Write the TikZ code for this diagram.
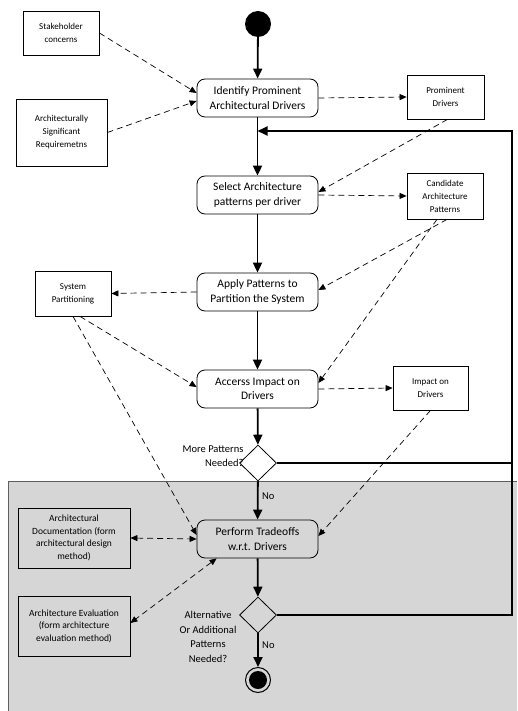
\documentclass[tikz,border=0pt]{standalone}
\usepackage{fontspec}
\setmainfont{Carlito}
\usepackage{tikz}
\usetikzlibrary{positioning, arrows.meta, shapes.geometric}
\definecolor{regiongray}{RGB}{214,214,214}
\definecolor{regionline}{RGB}{95,95,95}

\begin{document}
\begin{tikzpicture}[x=1pt, y=-1pt, >={Triangle[length=7pt, width=6pt]},
    activity/.style={draw, line width=.8pt, rounded corners=8pt, minimum width=121pt,
                     minimum height=38pt, align=center, inner sep=2pt,
                     font=\fontsize{11.5}{14.5}\selectfont},
    artifact/.style={draw, line width=.8pt, minimum width=76pt, minimum height=44pt,
                     align=center, inner sep=2pt, font=\fontsize{9}{13}\selectfont},
    decision/.style={draw, line width=.8pt, diamond, minimum width=37pt, minimum height=36pt,
                     inner sep=0pt},
    flow/.style={line width=1.8pt, -{Triangle[length=10pt, width=9pt]}},
    dep/.style={line width=.7pt, dash pattern=on 6pt off 4pt},
    lbl/.style={font=\fontsize{10.5}{14.5}\selectfont, align=center}]
  \useasboundingbox (0,0) rectangle (517,711);

  % shaded lower part
  \fill[regiongray] (8,481) rectangle (517,711);
  \draw[regionline, line width=.8pt] (8,711) -- (8,481) -- (517,481);

  % main column
  \node[circle, fill, minimum size=26pt, inner sep=0pt] (start) at (258,24) {};
  \node[activity] (identify) at (257.5,98) {Identify Prominent\\Architectural Drivers};
  \node[activity] (select) at (257.5,195) {Select Architecture\\patterns per driver};
  \node[activity] (apply) at (257.5,292) {Apply Patterns to\\Partition the System};
  \node[activity] (assess) at (257.5,389) {Accerss Impact on\\Drivers};
  \node[decision] (more) at (258,463) {};
  \node[activity] (perform) at (257.5,539) {Perform Tradeoffs\\w.r.t. Drivers};
  \node[decision] (alt) at (258,615) {};
  \node[circle, draw, line width=1pt, minimum size=25pt, inner sep=0pt] (finish) at (258,680) {};
  \node[circle, fill, minimum size=18pt, inner sep=0pt] (finishdot) at (finish) {};

  \node[lbl, anchor=east, align=right] (morelbl) at (247,456) {More Patterns\\Needed?};
  \node[lbl] (altlbl) at (208,637) {Alternative\\Or Additional\\Patterns\\Needed?};

  % work products
  \node[artifact] (stake) at (61,33) {Stakeholder\\concerns};
  \node[artifact, minimum width=91pt, minimum height=67pt] (asr) at (61.5,132.5)
       {Architecturally\\Significant\\Requiremetns};
  \node[artifact, minimum width=77pt] (prom) at (445.5,97) {Prominent\\Drivers};
  \node[artifact, minimum height=46pt] (cand) at (445,196) {Candidate\\Architecture\\Patterns};
  \node[artifact, minimum height=45pt] (syspart) at (73,293.5) {System\\Partitioning};
  \node[artifact, minimum width=75pt] (impact) at (430.5,388) {Impact on\\Drivers};
  \node[artifact, minimum width=112pt, minimum height=60pt, font=\fontsize{9.5}{12.5}\selectfont]
       (doc) at (74,538) {Architectural\\Documentation (form\\architectural design\\method)};
  \node[artifact, minimum width=112pt, minimum height=60pt, font=\fontsize{9.5}{12.5}\selectfont]
       (eval) at (74,626) {Architecture Evaluation\\(form architecture\\evaluation method)};

  % control flow
  \coordinate (loop) at (512,131);
  \draw[flow] (start) -- (identify);
  \draw[flow] (identify) -- (select);
  \draw[flow] (select) -- (apply);
  \draw[flow] (apply) -- (assess);
  \draw[flow] (assess) -- (more);
  \draw[flow] (more) -- node[lbl, right, pos=.38] {No} (perform);
  \draw[flow] (perform) -- (alt);
  \draw[flow] (alt) -- node[lbl, right, pos=.35] {No} (finish);
  \draw[flow] (more.east) -- (more.east -| loop) -- (loop) -- (loop -| identify);
  \draw[line width=1.8pt] (alt.east) -| (loop);

  % object flow
  \draw[dep, ->] (stake.east) -- ([yshift=5pt]identify.west);
  \draw[dep, ->] (asr.east) -- ([yshift=-3pt]identify.west);
  \draw[dep, ->] (identify.east) -- (prom.west);
  \draw[dep, ->] ([xshift=2pt]prom.south) -- ([yshift=3pt]select.east);
  \draw[dep, ->] (select.east) -- (cand.west);
  \draw[dep, ->] ([xshift=2pt]cand.south) -- ([yshift=2pt]apply.east);
  \draw[dep, ->] ([xshift=-8pt]cand.south) -- ([yshift=6pt]assess.east);
  \draw[dep, ->] (apply.west) -- (syspart.east);
  \draw[dep, ->] ([xshift=7pt]syspart.south) -- ([yshift=2pt]assess.west);
  \draw[dep, ->] (syspart.south) -- ([yshift=4pt]perform.west);
  \draw[dep, ->] (assess.east) -- (impact.west);
  \draw[dep, ->] (impact.south) -- ([yshift=3pt]perform.east);
  \draw[dep, <->] (doc.east) -- (perform.west);
  \draw[dep, <->] ([xshift=20pt]perform.south west) -- ([yshift=3pt]eval.east);
\end{tikzpicture}
\end{document}
